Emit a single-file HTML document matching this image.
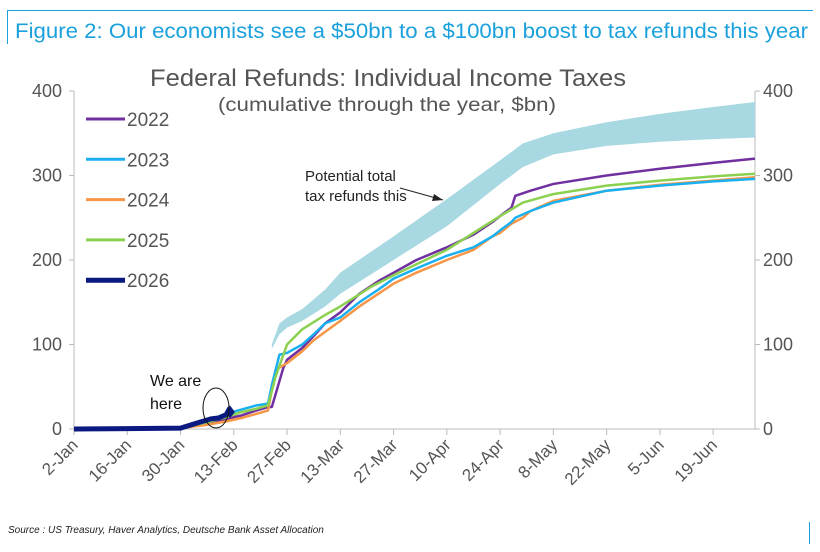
<!DOCTYPE html>
<html><head><meta charset="utf-8"><style>
body{margin:0;background:#fff;font-family:"Liberation Sans",sans-serif;}
svg text{font-family:"Liberation Sans",sans-serif;}
</style></head><body>
<svg width="820" height="547" viewBox="0 0 820 547">
<rect x="7" y="10" width="1" height="34" fill="#1aa0dc"/>
<rect x="7" y="10" width="806" height="1" fill="#1aa0dc"/>
<text x="15" y="38" font-size="21" fill="#1aa0dc" textLength="793" lengthAdjust="spacingAndGlyphs">Figure 2: Our economists see a $50bn to a $100bn boost to tax refunds this year</text>
<text x="150" y="86" font-size="24" fill="#555" textLength="476" lengthAdjust="spacingAndGlyphs">Federal Refunds: Individual Income Taxes</text>
<text x="218" y="111" font-size="19" fill="#555" textLength="338" lengthAdjust="spacingAndGlyphs">(cumulative through the year, $bn)</text>
<g id="axes"></g>
<g id="plot"></g>
<g id="legend"></g>
<text x="305" y="181" font-size="15" fill="#222">Potential total</text>
<text x="305" y="201" font-size="15" fill="#222">tax refunds this</text>
<line x1="400" y1="188" x2="443" y2="200" stroke="#222" stroke-width="1"/>
<polygon points="443,200 434,194 432,201" fill="#222"/>
<text x="150" y="386" font-size="16" fill="#111">We are</text>
<text x="150" y="409" font-size="16" fill="#111">here</text>
<ellipse cx="216" cy="408" rx="13" ry="20" fill="none" stroke="#111" stroke-width="1"/>
<text x="8" y="533" font-size="10" font-style="italic" fill="#222">Source : US Treasury, Haver Analytics, Deutsche Bank Asset Allocation</text>
<rect x="809" y="522" width="1" height="22" fill="#1aa0dc"/>
</svg>
<script>
const yTicks=[0,100,200,300,400];
const xTickLabels=["2-Jan","16-Jan","30-Jan","13-Feb","27-Feb","13-Mar","27-Mar","10-Apr","24-Apr","8-May","22-May","5-Jun","19-Jun"];
const xTickDays=[0,14,28,42,56,70,84,98,112,126,140,154,168];
const bandDays=[52,54,56,60,66,70,84,98,112,118,126,140,154,168,179];
const bandLow=[95,112,120,128,145,160,200,240,290,310,325,335,340,343,345];
const bandHigh=[100,125,132,142,165,185,228,272,318,338,350,363,373,381,387];
const days2022=[0,28,35,40,44,48,51,52,55,56,60,63,66,70,75,80,84,90,98,105,110,112,115,116,120,126,140,154,168,179];
const v2022=[0,1,7,12,16,22,26,26,72,82,96,110,125,138,160,175,185,200,215,230,245,252,262,276,282,290,300,308,315,320];
const days2023=[0,28,35,40,44,48,51,52,54,56,60,63,66,70,75,80,84,90,98,105,110,112,115,116,120,126,140,154,168,179];
const v2023=[0,1,10,18,23,28,30,52,88,90,100,112,125,132,150,165,178,190,205,215,228,235,245,250,258,268,282,288,293,296];
const days2024=[0,28,35,40,44,48,51,53,56,60,63,66,70,75,80,84,90,98,105,110,112,115,118,120,126,140,154,168,179];
const v2024=[0,1,5,9,13,18,22,70,78,92,105,115,128,145,160,172,185,200,212,228,232,243,250,258,270,282,289,294,298];
const days2025=[0,28,35,40,44,48,51,53,56,60,66,70,78,84,90,98,105,112,118,126,140,154,168,179];
const v2025=[0,1,8,14,20,24,28,62,100,118,135,145,168,182,195,212,232,252,268,278,288,294,299,302];
const days2026=[0,28,33,36,38,40,41];
const v2026=[0,1,8,12,13,17,25];
const X0=74,X1=755,D1=179,Y0=429,Y1=91;
const xs=d=>X0+(X1-X0)*d/D1;
const ys=v=>Y0-(Y0-Y1)*v/400;
const NS="http://www.w3.org/2000/svg";
const axes=document.getElementById('axes'),plot=document.getElementById('plot'),leg=document.getElementById('legend');
function mk(tag,attrs,parent){const e=document.createElementNS(NS,tag);for(const k in attrs)e.setAttribute(k,attrs[k]);parent.appendChild(e);return e;}
let e=mk('line',{x1:X0,y1:Y0,x2:X1,y2:Y0,stroke:'#bbb'},axes);


e=mk('line',{x1:X0,y1:Y1,x2:X0,y2:Y0,stroke:'#bbb'},axes);


e=mk('line',{x1:X1,y1:Y1,x2:X1,y2:Y0,stroke:'#bbb'},axes);


yTicks.forEach(t=>{
 const y=ys(t);
 mk('line',{x1:X0-5,y1:y,x2:X0,y2:y,stroke:'#bbb'},axes);
 mk('line',{x1:X1,y1:y,x2:X1+5,y2:y,stroke:'#bbb'},axes);
 let a=mk('text',{x:X0-12,y:y+6,'font-size':18,fill:'#555','text-anchor':'end'},axes);a.textContent=t;
 
 
 let b=mk('text',{x:X1+8,y:y+6,'font-size':18,fill:'#555'},axes);b.textContent=t;
 
 
});
xTickDays.forEach((d,i)=>{
 const x=xs(d);
 mk('line',{x1:x,y1:Y0,x2:x,y2:Y0+6,stroke:'#bbb'},axes);
 let t=mk('text',{x:x+5,y:Y0+17,'font-size':17,fill:'#555','text-anchor':'end',transform:`rotate(-45 ${x+5} ${Y0+17})`},axes);
 t.textContent=xTickLabels[i];
 
 
});
let pts=bandDays.map((d,i)=>xs(d)+','+ys(bandHigh[i])).concat(bandDays.map((d,i)=>xs(d)+','+ys(bandLow[i])).reverse());
e=mk('polygon',{points:pts.join(' '),fill:'#a8d8e2'},plot);


const series=[["2022",days2022,v2022,'#7030a0',2.5],["2024",days2024,v2024,'#f79646',2.5],["2023",days2023,v2023,'#1ab0f0',2.5],["2025",days2025,v2025,'#8cd050',2.5],["2026",days2026,v2026,'#0a1a80',5]];
series.forEach(s=>{
 let l=mk('polyline',{points:s[1].map((d,i)=>xs(d)+','+ys(s[2][i])).join(' '),fill:'none',stroke:s[3],'stroke-width':s[4],'stroke-linejoin':'round'},plot);
 
 
});
e=mk('polygon',{points:`${xs(41)-5},${ys(20)} ${xs(41)},${ys(28)} ${xs(41)+5},${ys(20)} ${xs(41)},${ys(13)}`,fill:'#0a1a80'},plot);


const legOrder=[["2022",'#7030a0',3],["2023",'#1ab0f0',3],["2024",'#f79646',3],["2025",'#8cd050',3],["2026",'#0a1a80',5]];
legOrder.forEach((s,i)=>{
 const y=119+i*40.3;
 let l=mk('line',{x1:86,y1:y,x2:125,y2:y,stroke:s[1],'stroke-width':s[2]},leg);
 
 
 let t=mk('text',{x:127,y:y+7,'font-size':19,fill:'#555'},leg);t.textContent=s[0];
 
 
});
</script>
</body></html>
